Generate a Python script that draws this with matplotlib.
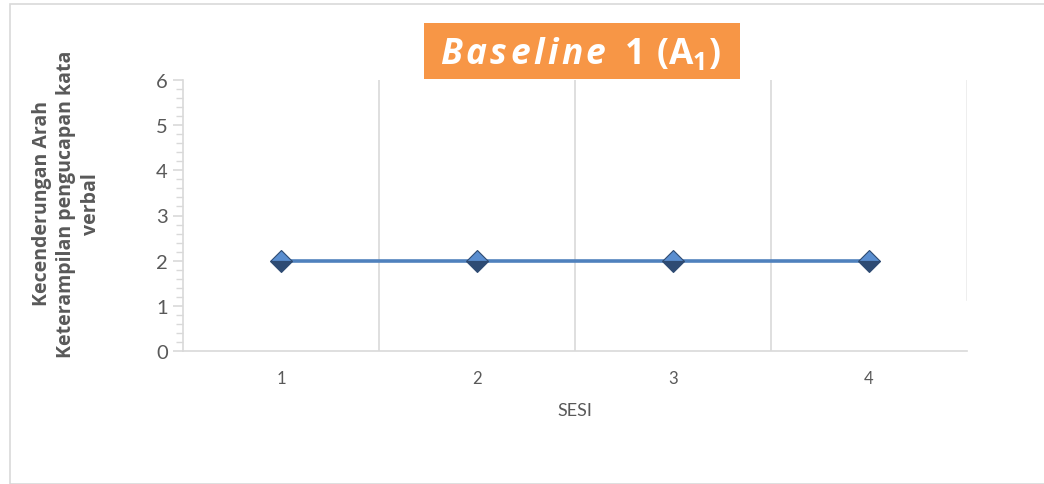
import matplotlib.pyplot as plt
from matplotlib.patches import Rectangle
from matplotlib.ticker import MultipleLocator

plt.rcParams['font.family'] = ['Lato', 'DejaVu Sans']
plt.rcParams['mathtext.fontset'] = 'custom'
plt.rcParams['mathtext.rm'] = 'Open Sans'
plt.rcParams['mathtext.bf'] = 'Open Sans:bold'
plt.rcParams['mathtext.bfit'] = 'Open Sans:bold:italic'

sesi = [1, 2, 3, 4]
nilai = [2, 2, 2, 2]
judul_kata = "Baseline"
judul_sisa = r"\mathbf{1\ (A_1)}"
ylabel = "Kecenderungan Arah\nKeterampilan pengucapan kata\nverbal"
xlabel = "SESI"

# spaced-out italic word followed by the bold part
spaced = r"\hspace{0.1}".join(judul_kata)
title = r"$\mathbfit{" + spaced + r"}\hspace{0.55}" + judul_sisa + "$"

grey = "#595959"
W, H = 1044, 485

fig = plt.figure(figsize=(W / 100, H / 100), dpi=100)

# outer chart border
fig.patches.append(Rectangle((10 / W, 0), 1.0, 1 - 5 / H, transform=fig.transFigure,
                             fill=False, edgecolor="#D9D9D9", linewidth=1.2))

ax = fig.add_axes([183 / W, 1 - 352 / H, (967 - 183) / W, (352 - 81) / H])

ax.plot(sesi, nilai, color="#4F81BD", linewidth=2.6, marker="D", markersize=11.5,
        fillstyle="top", markerfacecolor="#5A8ED0", markerfacecoloralt="#2E4B73",
        markeredgecolor="#2E4B73", markeredgewidth=0.8, zorder=3)

ax.set_xlim(0.5, 4.5)
ax.set_ylim(0, 6)
ax.set_xticks(sesi)
ax.yaxis.set_major_locator(MultipleLocator(1))
ax.yaxis.set_minor_locator(MultipleLocator(0.2))

for x in [1.5, 2.5, 3.5]:
    ax.axvline(x, color="#D9D9D9", linewidth=1.2, zorder=1)
ax.axvline(4.5, ymin=0.19, ymax=1, color="#EBEBEB", linewidth=1.2, zorder=1)

for s in ["top", "right"]:
    ax.spines[s].set_visible(False)
for s in ["left", "bottom"]:
    ax.spines[s].set_color("#D9D9D9")
    ax.spines[s].set_linewidth(1.2)

ax.tick_params(axis="y", which="major", length=7, width=1.2, color="#D9D9D9",
               labelsize=14.5, labelcolor=grey, pad=4)
ax.tick_params(axis="y", which="minor", length=5, width=1.0, color="#D9D9D9")
ax.tick_params(axis="x", length=0, labelsize=12, labelcolor=grey, pad=14)

ax.set_xlabel(xlabel, fontsize=13, color=grey, labelpad=11)

fig.text(66 / W, 1 - 204 / H, ylabel, rotation=90, ha="center", va="center",
         fontsize=14, fontweight="bold", color=grey, linespacing=1.3,
         family="Open Sans")

# title box
fig.patches.append(Rectangle((424 / W, 1 - 80 / H), (740 - 424) / W, (80 - 24) / H,
                             transform=fig.transFigure, facecolor="#F79646",
                             edgecolor="none", zorder=5))
fig.text(580 / W, 1 - 54 / H, title, ha="center", va="center", fontsize=25.5,
         color="white", zorder=6)

fig.savefig("out.png", dpi=100)
